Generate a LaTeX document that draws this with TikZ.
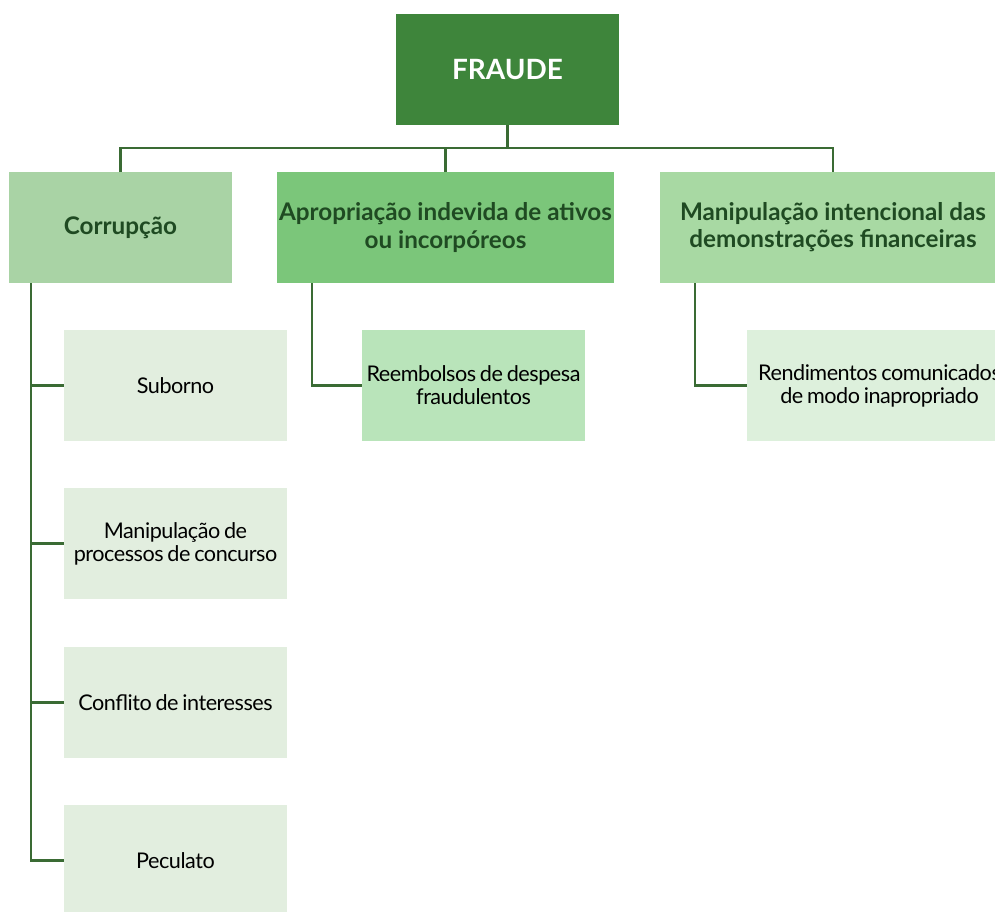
\documentclass[tikz,border=0pt]{standalone}
\usepackage{fontspec}
\setmainfont{Lato}
\newfontfamily\leaffont{Lato}[LetterSpace=-2.2, WordSpace=0.75]
\usetikzlibrary{positioning}

\definecolor{fraudegreen}{HTML}{3E853B}
\definecolor{corrfill}{HTML}{A9D3A5}
\definecolor{apropfill}{HTML}{7BC67A}
\definecolor{manipfill}{HTML}{A8D9A3}
\definecolor{reembfill}{HTML}{B9E4BA}
\definecolor{rendfill}{HTML}{DDF0DC}
\definecolor{subfill}{HTML}{E2EEDF}
\definecolor{linkgreen}{HTML}{3A6B34}
\definecolor{titletext}{HTML}{1F4A22}

\tikzset{
  topbox/.style={fill=fraudegreen, text=white, minimum width=4.46cm, minimum height=2.22cm,
    font=\fontsize{15.9}{18}\selectfont\bfseries},
  catbox/.style={minimum height=2.22cm, align=center, text=titletext,
    font=\fontsize{13.8}{15.4}\selectfont\bfseries, inner sep=1pt},
  leafbox/.style={minimum width=4.46cm, minimum height=2.22cm, align=center, text=black,
    font=\leaffont\fontsize{12.3}{13}\selectfont, inner sep=1pt},
  link/.style={draw=linkgreen, line width=1.6pt}
}

\begin{document}
\begin{tikzpicture}[x=1cm,y=1cm]
  \useasboundingbox (0,0) rectangle (19.9,-18.22);
  \clip (0,0) rectangle (19.9,-18.22);

  % top
  \node[topbox] (fraude) at (10.15,-1.39) {FRAUDE};

  % categories
  \node[catbox, fill=corrfill, minimum width=4.46cm] (corr) at (2.41,-4.55) {Corrupção};
  \node[catbox, fill=apropfill, minimum width=6.70cm] (aprop) at (8.91,-4.55)
    {Apropriação indevida de ativos\\ou incorpóreos};
  \node[catbox, fill=manipfill, minimum width=6.92cm] (manip) at (16.66,-4.55)
    {Manipulação intencional das\\demonstrações financeiras};

  % leaves
  \node[leafbox, fill=subfill] (suborno) at (3.51,-7.71) {Suborno};
  \node[leafbox, fill=subfill] (concurso) at (3.51,-10.87) {Manipulação de\\processos de concurso};
  \node[leafbox, fill=subfill] (conflito) at (3.51,-14.05) {Conflito de interesses};
  \node[leafbox, fill=subfill] (peculato) at (3.51,-17.21) {Peculato};
  \node[leafbox, fill=reembfill] (reemb) at (9.47,-7.71) {Reembolsos de despesa\\fraudulentos};
  \node[leafbox, fill=rendfill, minimum width=5.3cm] (rend) at (17.59,-7.71)
    {Rendimentos comunicados\\de modo inapropriado};

  % connectors
  \coordinate (bus) at (0,-2.96);
  \draw[link] (fraude.south) -- (fraude.south |- bus);
  \draw[link] (corr.north) -- (corr.north |- bus) -- (manip.north |- bus) -- (manip.north);
  \draw[link] (aprop.north |- bus) -- (aprop.north);

  \coordinate (corrspine) at (0.62,0);
  \foreach \leaf in {suborno,concurso,conflito}
    \draw[link] (corrspine |- corr.south) |- (\leaf.west);
  \draw[link] (corrspine |- corr.south) |- (peculato.west);
  \coordinate (apropspine) at (6.24,0);
  \draw[link] (apropspine |- aprop.south) |- (reemb.west);
  \coordinate (manipspine) at (13.90,0);
  \draw[link] (manipspine |- manip.south) |- (rend.west);
\end{tikzpicture}
\end{document}
